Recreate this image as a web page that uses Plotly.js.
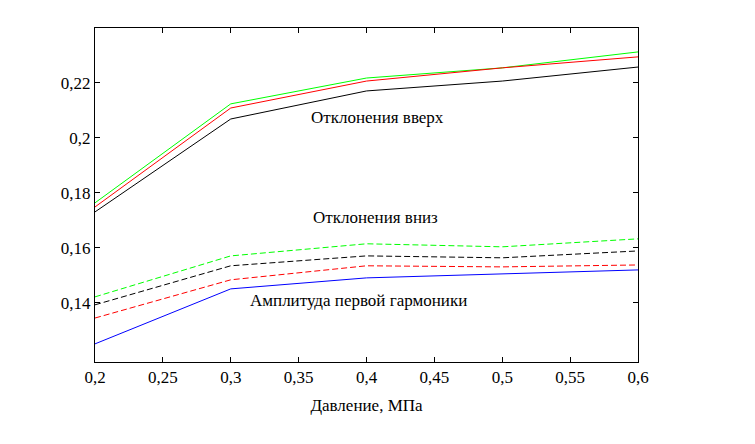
<!DOCTYPE html>
<html>
<head>
<meta charset="utf-8">
<script src="https://cdn.plot.ly/plotly-3.0.1.min.js"></script>
<style>body{margin:0}#myDiv{width:755px;height:444px}</style>
</head>
<body>
<div id="myDiv"></div>
<script>
var pressure = [0.2, 0.3, 0.4, 0.5, 0.6];
var upGreen = [0.1764, 0.2124, 0.2218, 0.2255, 0.2313];
var upRed = [0.1749, 0.2109, 0.2207, 0.2255, 0.2295];
var upBlack = [0.1731, 0.2069, 0.2171, 0.2207, 0.2258];
var downGreen = [0.1422, 0.1571, 0.1615, 0.1604, 0.1633];
var downBlack = [0.1393, 0.1535, 0.1571, 0.1564, 0.1589];
var downRed = [0.1345, 0.1484, 0.1535, 0.1531, 0.1538];
var amplitude = [0.1251, 0.1451, 0.1491, 0.1505, 0.1520];

function line(y, color, dash){
    return {x: pressure, y: y, type: 'scatter', mode: 'lines',
        line: {color: color, width: 1, dash: dash || 'solid'}};
}

var data = [
    line(upGreen, '#00ff00'), line(upRed, '#ff0000'), line(upBlack, '#000000'),
    line(downGreen, '#00ff00', '6px,3px'), line(downBlack, '#000000', '6px,3px'),
    line(downRed, '#ff0000', '6px,3px'), line(amplitude, '#0000ff')
];

var serif = 'Liberation Serif, Times New Roman, serif';
var ax = {showgrid: false, zeroline: false, showline: true, mirror: 'ticks',
    linecolor: '#000', ticks: 'inside', ticklen: 5, tickcolor: '#000',
    tickfont: {family: serif, size: 17, color: '#000'}};

var layout = {
    width: 755, height: 444,
    margin: {l: 95, r: 117, t: 28, b: 82},
    showlegend: false,
    separators: ',.',
    font: {family: serif, size: 17, color: '#000'},
    paper_bgcolor: '#fff', plot_bgcolor: '#fff',
    xaxis: Object.assign({}, ax, {range: [0.2, 0.6], tickvals: [0.2, 0.25, 0.3, 0.35, 0.4, 0.45, 0.5, 0.55, 0.6],
        title: {text: 'Давление, МПа', standoff: 12, font: {family: serif, size: 17}}}),
    yaxis: Object.assign({}, ax, {range: [0.1185, 0.24], tickvals: [0.14, 0.16, 0.18, 0.2, 0.22]}),
    annotations: [
        {x: 0.358, y: 0.2076, xanchor: 'left', text: 'Отклонения вверх', showarrow: false},
        {x: 0.359, y: 0.1709, xanchor: 'left', text: 'Отклонения вниз', showarrow: false},
        {x: 0.313, y: 0.1407, xanchor: 'left', text: 'Амплитуда первой гармоники', showarrow: false}
    ]
};

Plotly.newPlot('myDiv', data, layout, {displayModeBar: false});
</script>
</body>
</html>
